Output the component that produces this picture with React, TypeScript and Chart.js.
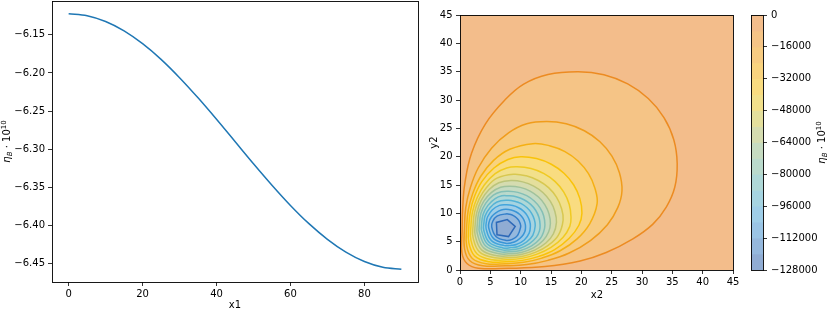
import React, { useEffect, useRef } from "react";
import { Chart, registerables } from "chart.js";

Chart.register(...registerables);

// ---------------- Left panel data ----------------
const X1 = [0, 5, 10, 15, 20, 25, 30, 35, 40, 45, 50, 55, 60, 65, 70, 75, 80, 85, 90];
const ETA_X1 = [
  -6.1225, -6.125, -6.1326, -6.1449, -6.1617, -6.1822, -6.2062, -6.2326, -6.2607, -6.2898,
  -6.3189, -6.347, -6.3735, -6.3974, -6.4179, -6.4347, -6.447, -6.4546, -6.4571,
];
const X1_TICKS = [0, 20, 40, 60, 80];
const ETA_TICKS = [-6.45, -6.4, -6.35, -6.3, -6.25, -6.2, -6.15];

// ---------------- Right panel data ----------------
const XY_TICKS = [0, 5, 10, 15, 20, 25, 30, 35, 40, 45];
const LEVELS = [-8000, -16000, -24000, -32000, -40000, -48000, -56000, -64000, -72000, -80000, -88000, -96000, -104000, -112000, -120000];
const CBAR_BOUNDS = [0, -8000, -16000, -24000, -32000, -40000, -48000, -56000, -64000, -72000, -80000, -88000, -96000, -104000, -112000, -120000, -128000];
const CBAR_TICKS = [0, -16000, -32000, -48000, -64000, -80000, -96000, -112000, -128000];

// contour lines [x2, y2]
const C8 = [[1.15,1.15],[3.0,0.32],[8,0.3],[14,0.6],[19.8,1.6],[24.1,3.1],[28.5,5.5],[31.8,8.1],[34,11.1],[35.4,14.6],[35.8,18.8],[35.24,22.99],[33.62,26.9],[31.03,30.26],[27.65,32.83],[23.72,34.45],[19.5,35.0],[14.5,34.5],[10.5,32.8],[7.4,30],[4.2,25.8],[1.9,20.6],[0.8,15.3],[0.45,11],[0.35,7],[0.32,3.0]];
const C16 = [[1.63,1.63],[3.75,0.75],[7.5,0.75],[11,0.95],[14.5,1.7],[18,3.0],[21.5,5.2],[24.3,8.0],[26.0,11.0],[26.7,14.0],[26.28,17.16],[25.04,20.1],[23.07,22.63],[20.5,24.57],[17.5,25.8],[14.3,26.2],[11.0,25.8],[8.0,24.2],[5.2,21.5],[3.0,18.0],[1.7,14.5],[0.95,11],[0.75,7.5],[0.75,3.75]];
const C24 = [[2.04,2.04],[4.3,1.1],[7.5,1.1],[10.5,1.35],[13.5,2.1],[16.5,3.4],[19.3,5.5],[21.4,8.2],[22.6,11.7],[22.24,14.44],[21.18,17.0],[19.5,19.2],[17.3,20.9],[14.74,21.94],[12.0,22.3],[8.2,21.3],[5.5,19.3],[3.4,16.5],[2.1,13.5],[1.35,10.5],[1.1,7.5],[1.1,4.3]];
const C32 = [[2.45,2.45],[4.85,1.45],[7.6,1.45],[10.3,1.7],[13.0,2.4],[15.6,3.6],[18.0,5.6],[19.6,7.9],[20.1,10.0],[19.76,12.59],[18.75,15.0],[17.14,17.07],[15.05,18.66],[12.61,19.66],[10.0,20.0],[7.9,19.5],[5.6,18.0],[3.6,15.6],[2.4,13.0],[1.7,10.3],[1.45,7.6],[1.45,4.85]];
const C40 = [[2.83,2.83],[5.3,1.8],[7.7,1.8],[10.2,2.05],[12.7,2.8],[15.0,4.0],[17.0,5.8],[18.1,7.7],[18.3,9.3],[18.0,11.6],[17.11,13.75],[15.69,15.59],[13.85,17.01],[11.7,17.9],[9.4,18.2],[7.7,18.0],[5.8,17.0],[4.0,15.0],[2.8,12.7],[2.05,10.2],[1.8,7.7],[1.8,5.3]];
const C48 = [[3.2,3.2],[5.75,2.15],[7.8,2.15],[10.2,2.4],[12.5,3.15],[14.6,4.4],[16.2,6.1],[17.0,8.8],[16.72,10.9],[15.9,12.85],[14.6,14.53],[12.9,15.8],[10.92,16.62],[8.8,16.9],[6.1,16.2],[4.4,14.6],[3.15,12.5],[2.4,10.2],[2.15,7.8],[2.15,5.75]];
const C56 = [[3.55,3.55],[6.1,2.5],[8.0,2.5],[10.1,2.75],[12.3,3.5],[14.2,4.8],[15.4,6.4],[15.9,8.4],[15.64,10.32],[14.9,12.1],[13.7,13.63],[12.15,14.81],[10.34,15.55],[8.4,15.8],[6.4,15.4],[4.8,14.2],[3.5,12.3],[2.75,10.1],[2.5,8.0],[2.5,6.1]];
const C64 = [[3.9,3.9],[6.45,2.85],[8.0,2.85],[10.1,3.1],[12.1,3.9],[13.7,5.2],[14.6,6.7],[14.9,8.2],[14.67,9.91],[14.0,11.5],[12.94,12.87],[11.55,13.92],[9.93,14.58],[8.2,14.8],[6.7,14.6],[5.2,13.7],[3.9,12.1],[3.1,10.1],[2.85,8.0],[2.85,6.45]];
const C72 = [[4.23,4.23],[6.7,3.2],[8.0,3.2],[10.0,3.45],[11.8,4.25],[13.2,5.5],[13.8,6.8],[14.0,8.0],[13.8,9.53],[13.2,10.95],[12.24,12.17],[11.0,13.11],[9.55,13.7],[8.0,13.9],[6.8,13.8],[5.5,13.2],[4.25,11.8],[3.45,10.0],[3.2,8.0],[3.2,6.7]];
const C80 = [[4.55,4.55],[6.95,3.55],[8.0,3.55],[9.8,3.8],[11.4,4.6],[12.6,5.8],[13.1,6.9],[13.2,7.9],[13.02,9.25],[12.49,10.5],[11.65,11.58],[10.55,12.4],[9.27,12.92],[7.9,13.1],[6.9,13.1],[5.8,12.6],[4.6,11.4],[3.8,9.8],[3.55,8.0],[3.55,6.95]];
const C88 = [[4.84,4.84],[7.1,3.9],[8.4,3.95],[9.6,4.15],[11.0,4.95],[12.0,6.1],[12.4,7.8],[12.24,8.96],[11.78,10.05],[11.05,10.98],[10.1,11.7],[8.99,12.15],[7.8,12.3],[6.1,12.0],[4.95,11.0],[4.15,9.6],[3.95,8.4],[3.9,7.1]];
const C96 = [[5.18,5.18],[7.3,4.3],[8.5,4.35],[9.4,4.55],[10.6,5.3],[11.4,6.5],[11.6,7.7],[11.47,8.68],[11.08,9.6],[10.46,10.39],[9.65,10.99],[8.71,11.37],[7.7,11.5],[6.5,11.4],[5.3,10.6],[4.55,9.4],[4.35,8.5],[4.3,7.3]];
const C104 = [[5.54,5.54],[7.5,4.72],[8.5,4.8],[9.4,5.2],[10.2,5.9],[10.7,6.8],[10.8,7.6],[10.69,8.4],[10.37,9.15],[9.86,9.79],[9.2,10.28],[8.43,10.59],[7.6,10.7],[6.8,10.6],[5.9,10.1],[5.2,9.4],[4.8,8.5],[4.72,7.5]];
const C112 = [[5.92,5.92],[7.6,5.22],[8.6,5.4],[9.5,6.1],[10.0,7.6],[9.92,8.2],[9.68,8.75],[9.3,9.23],[8.8,9.59],[8.22,9.82],[7.6,9.9],[6.1,9.5],[5.4,8.6],[5.22,7.6]];
const C120 = [[6.1,6.2],[8.0,5.9],[9.1,7.7],[7.8,8.9],[6.0,8.4]];
const CONTOURS = [C8, C16, C24, C32, C40, C48, C56, C64, C72, C80, C88, C96, C104, C112, C120];

// ---------------- Styles ----------------
const BAND_COLORS = ["#f3bd8b", "#f5c486", "#f7cb81", "#f9d37e", "#f9dc80", "#f2e08b", "#e4df9c", "#d5dcb0", "#c6dbc1", "#badacc", "#afd8d7", "#a6d4e1", "#9fcee8", "#9ac4e5", "#95b8dd", "#90acd3"];
const LINE_COLORS = ["#ec8b22", "#f09c1c", "#f5b014", "#f9c30a", "#f0ca22", "#d8c850", "#bcc47a", "#a0c29c", "#84bfb6", "#6abac8", "#54b2d6", "#44a5dc", "#3a95d6", "#347fca", "#2e69b8"];
const FONT_FAMILY = "'DejaVu Sans', sans-serif";
const FONT = { family: FONT_FAMILY, size: 10 };
const minus = (s: string) => s.replace("-", "\u2212");

const gridOpts = { drawOnChartArea: false, drawTicks: true, tickLength: 4, color: "#000", lineWidth: 0.8 };

const framePlugin = {
  id: "frame",
  afterDatasetsDraw(chart: any) {
    const { ctx, chartArea: a } = chart;
    ctx.save();
    ctx.strokeStyle = "#000";
    ctx.lineWidth = 0.9;
    const l = Math.round(a.left), t = Math.round(a.top), r = Math.round(a.right), b = Math.round(a.bottom);
    ctx.strokeRect(l + 0.5, t + 0.5, r - l, b - t);
    ctx.restore();
  },
};

type Part = { t: string; font: string; dy: number };
const ETA_LABEL: Part[] = [
  { t: "\u03b7", font: `italic 10px ${FONT_FAMILY}`, dy: 0 },
  { t: "B", font: `italic 7px ${FONT_FAMILY}`, dy: 2 },
  { t: " \u00b7 10", font: `10px ${FONT_FAMILY}`, dy: 0 },
  { t: "10", font: `7px ${FONT_FAMILY}`, dy: -3.8 },
];

function drawParts(ctx: CanvasRenderingContext2D, parts: Part[], bx: number, by: number, rot: number) {
  ctx.save();
  ctx.translate(bx, by);
  ctx.rotate(rot);
  ctx.fillStyle = "#000";
  ctx.textBaseline = "alphabetic";
  ctx.textAlign = "left";
  let total = 0;
  const widths = parts.map((p) => {
    ctx.font = p.font;
    const w = ctx.measureText(p.t).width;
    total += w;
    return w;
  });
  let x = -total / 2;
  parts.forEach((p, i) => {
    ctx.font = p.font;
    ctx.fillText(p.t, x, p.dy);
    x += widths[i];
  });
  ctx.restore();
}

function labelPlugin(id: string, draw: (ctx: CanvasRenderingContext2D) => void) {
  return { id, afterDraw(chart: any) { draw(chart.ctx); } };
}

// close each contour line into a smooth loop
const loopPlugin = {
  id: "loop",
  beforeDatasetsDraw(chart: any) {
    chart.getSortedVisibleDatasetMetas().forEach((m: any) => {
      if (m.dataset) {
        m.dataset._loop = true;
        m.dataset._fullLoop = true;
        m.dataset._segments = undefined;
        m.dataset._pointsUpdated = false;
        m.dataset._path = undefined;
      }
    });
  },
};

const bgPlugin = {
  id: "bg",
  beforeDatasetsDraw(chart: any) {
    const { ctx, chartArea: a } = chart;
    ctx.save();
    ctx.fillStyle = BAND_COLORS[0];
    ctx.fillRect(a.left, a.top, a.right - a.left, a.bottom - a.top);
    ctx.restore();
  },
};

const setTicks = (vals: number[]) => (s: any) => {
  s.ticks = vals.map((v) => ({ value: v }));
};

export default function App() {
  const leftRef = useRef<HTMLCanvasElement>(null);
  const rightRef = useRef<HTMLCanvasElement>(null);
  const cbarRef = useRef<HTMLCanvasElement>(null);

  useEffect(() => {
    const charts: Chart[] = [];

    // ---------- Left line chart ----------
    charts.push(
      new Chart(leftRef.current as HTMLCanvasElement, {
        type: "line",
        data: {
          datasets: [
            {
              data: X1.map((x, i) => ({ x, y: ETA_X1[i] })),
              borderColor: "#1f77b4",
              borderWidth: 1.5,
              pointRadius: 0,
              cubicInterpolationMode: "monotone",
              fill: false,
            },
          ],
        },
        options: {
          animation: false,
          responsive: false,
          events: [],
          layout: { padding: { left: 0, right: 2, top: 1, bottom: 0 } },
          plugins: { legend: { display: false }, tooltip: { enabled: false } },
          scales: {
            x: {
              type: "linear",
              min: -4.5,
              max: 94.5,
              afterBuildTicks: setTicks(X1_TICKS),
              afterFit: (s: any) => { s.height = 27; s.paddingLeft = 0; s.paddingRight = 0; },
              grid: gridOpts,
              border: { display: false },
              ticks: { autoSkip: false, maxRotation: 0, padding: 2, color: "#000", font: FONT },
            },
            y: {
              type: "linear",
              min: -6.4738,
              max: -6.1058,
              afterBuildTicks: setTicks(ETA_TICKS),
              afterFit: (s: any) => { s.width = 52; s.paddingTop = 0; s.paddingBottom = 0; },
              grid: gridOpts,
              border: { display: false },
              ticks: { autoSkip: false, padding: 3, color: "#000", font: FONT, callback: (v: any) => minus(Number(v).toFixed(2)) },
            },
          },
        } as any,
        plugins: [
          framePlugin,
          labelPlugin("lbl1", (ctx) => {
            drawParts(ctx, ETA_LABEL, 9.5, 141.5, -Math.PI / 2);
            drawParts(ctx, [{ t: "x1", font: `10px ${FONT_FAMILY}`, dy: 0 }], 235, 308, 0);
          }),
        ],
      })
    );

    // ---------- Right contour chart ----------
    charts.push(
      new Chart(rightRef.current as HTMLCanvasElement, {
        type: "line",
        data: {
          datasets: CONTOURS.map((pts, i) => ({
            label: String(LEVELS[i]),
            data: pts.map(([x, y]) => ({ x, y })),
            fill: "shape",
            backgroundColor: BAND_COLORS[i + 1],
            borderColor: LINE_COLORS[i],
            borderWidth: 1.5,
            pointRadius: 0,
            tension: i === CONTOURS.length - 1 ? 0 : 0.4,
            order: CONTOURS.length - i,
          })),
        },
        options: {
          animation: false,
          responsive: false,
          events: [],
          layout: { padding: { left: 0, right: 17, top: 15, bottom: 0 } },
          plugins: { legend: { display: false }, tooltip: { enabled: false } },
          scales: {
            x: {
              type: "linear",
              min: 0,
              max: 45,
              afterBuildTicks: setTicks(XY_TICKS),
              afterFit: (s: any) => { s.height = 39; s.paddingLeft = 0; s.paddingRight = 0; },
              grid: gridOpts,
              border: { display: false },
              ticks: { autoSkip: false, maxRotation: 0, padding: 2, color: "#000", font: FONT },
            },
            y: {
              type: "linear",
              min: 0,
              max: 45,
              afterBuildTicks: setTicks(XY_TICKS),
              afterFit: (s: any) => { s.width = 40; s.paddingTop = 0; s.paddingBottom = 0; },
              grid: gridOpts,
              border: { display: false },
              ticks: { autoSkip: false, padding: 3.5, color: "#000", font: FONT },
            },
          },
        } as any,
        plugins: [
          bgPlugin,
          loopPlugin,
          framePlugin,
          labelPlugin("lbl2", (ctx) => {
            drawParts(ctx, [{ t: "x2", font: `10px ${FONT_FAMILY}`, dy: 0 }], 177, 298, 0);
            drawParts(ctx, [{ t: "y2", font: `10px ${FONT_FAMILY}`, dy: 0 }], 17, 142.5, -Math.PI / 2);
          }),
        ],
      })
    );

    // ---------- Colorbar ----------
    charts.push(
      new Chart(cbarRef.current as HTMLCanvasElement, {
        type: "bar",
        data: {
          labels: [""],
          datasets: BAND_COLORS.map((c, i) => ({
            data: [[CBAR_BOUNDS[i + 1], CBAR_BOUNDS[i]]],
            backgroundColor: c,
            borderWidth: 0,
            grouped: false,
            barPercentage: 1,
            categoryPercentage: 1,
          })),
        },
        options: {
          animation: false,
          responsive: false,
          events: [],
          layout: { padding: { left: 11, right: 0, top: 15, bottom: 39 } },
          plugins: { legend: { display: false }, tooltip: { enabled: false } },
          scales: {
            x: { display: false },
            y: {
              position: "right",
              min: -128000,
              max: 0,
              afterBuildTicks: setTicks(CBAR_TICKS),
              afterFit: (s: any) => { s.width = 67; s.paddingTop = 0; s.paddingBottom = 0; },
              grid: gridOpts,
              border: { display: false },
              ticks: { autoSkip: false, padding: 4, color: "#000", font: FONT, callback: (v: any) => minus(String(v)) },
            },
          },
        } as any,
        plugins: [
          framePlugin,
          labelPlugin("lbl3", (ctx) => {
            drawParts(ctx, ETA_LABEL, 85, 142.5, -Math.PI / 2);
          }),
        ],
      })
    );

    return () => charts.forEach((c) => c.destroy());
  }, []);

  return (
    <div style={{ position: "absolute", left: 0, top: 0, width: 830, height: 309, background: "#fff", overflow: "hidden" }}>
      <canvas ref={leftRef} width={420} height={309} style={{ position: "absolute", left: 0, top: 0, width: 420, height: 309 }} />
      <canvas ref={rightRef} width={330} height={309} style={{ position: "absolute", left: 420, top: 0, width: 330, height: 309 }} />
      <canvas ref={cbarRef} width={90} height={309} style={{ position: "absolute", left: 740, top: 0, width: 90, height: 309 }} />
    </div>
  );
}
